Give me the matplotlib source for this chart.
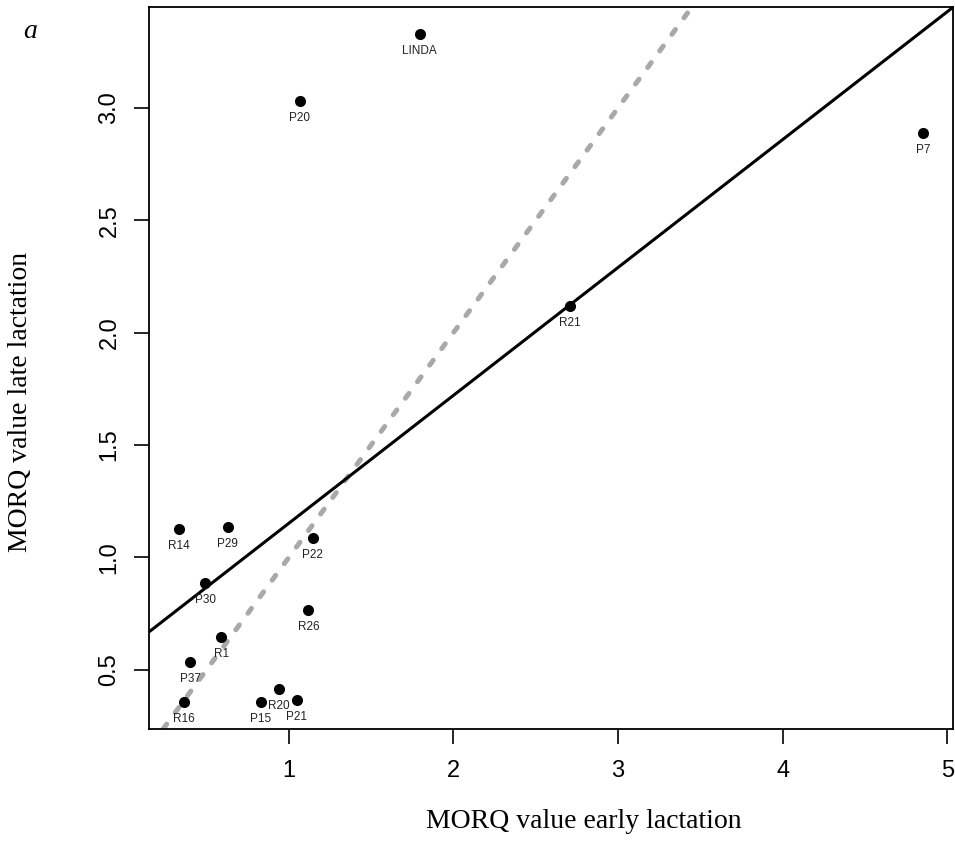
import numpy as np
import matplotlib.pyplot as plt

# cow / sample ids and MORQ values
names = ['LINDA', 'P20', 'P7', 'R21', 'R14', 'P29', 'P22', 'P30',
         'R26', 'R1', 'P37', 'R16', 'P15', 'R20', 'P21']
early = [1.795, 1.067, 4.854, 2.706, 0.332, 0.628, 1.146, 0.492,
         1.119, 0.589, 0.401, 0.361, 0.830, 0.939, 1.049]
late = [3.33, 3.03, 2.887, 2.118, 1.128, 1.137, 1.088, 0.888,
        0.766, 0.646, 0.536, 0.356, 0.356, 0.415, 0.366]

# fitted regression line and 1:1 reference line
fit_intercept = 0.583
fit_slope = 0.569
ref_intercept = 0.0
ref_slope = 1.0

xticks = [1, 2, 3, 4, 5]
yticks = [0.5, 1.0, 1.5, 2.0, 2.5, 3.0]

SANS = 'Liberation Sans'
SERIF = 'Liberation Serif'

fig = plt.figure(figsize=(9.55, 8.43), dpi=100)
ax = fig.add_axes([149 / 955, 1 - 729 / 843, (953 - 149) / 955, (729 - 7) / 843])

ax.scatter(early, late, s=8 ** 2, color='black', zorder=3, linewidths=0)
for n, x, y in zip(names, early, late):
    ax.annotate(n, (x, y), xytext=(0, -12.3), textcoords='offset points',
                ha='center', va='center', fontsize=8.5, family=SANS, color='#222222')

ax.margins(0.04)
ax.autoscale_view()
ax.set_autoscale_on(False)

ax.axline((0, fit_intercept), slope=fit_slope, color='black', lw=2.2, zorder=2)
ax.axline((0, ref_intercept), slope=ref_slope, color='#a9a9a9', lw=3.6,
          dashes=(1.2, 2.9), dash_capstyle='round', zorder=1)

ax.set_xticks(xticks)
ax.set_xticklabels([str(t) for t in xticks])
ax.set_yticks(yticks)
ax.set_yticklabels([f'{t:.1f}' for t in yticks], rotation=90, va='center')
ax.tick_params(axis='both', length=10.5, width=1.2, labelsize=17, direction='out')
ax.tick_params(axis='x', pad=12)
ax.tick_params(axis='y', pad=10)
for lab in ax.get_xticklabels() + ax.get_yticklabels():
    lab.set_family(SANS)
for sp in ax.spines.values():
    sp.set_linewidth(1.3)

fig.text(584 / 955, 1 - 822 / 843, 'MORQ value early lactation', ha='center', va='center',
         fontsize=20, family=SERIF)
fig.text(21 / 955, 1 - 402 / 843, 'MORQ value late lactation', ha='center', va='center',
         rotation=90, fontsize=20, family=SERIF)
fig.text(30 / 955, 1 - 31 / 843, 'a', ha='center', va='center', fontsize=20,
         family=SERIF, style='italic')

fig.savefig('out.png', dpi=100)
